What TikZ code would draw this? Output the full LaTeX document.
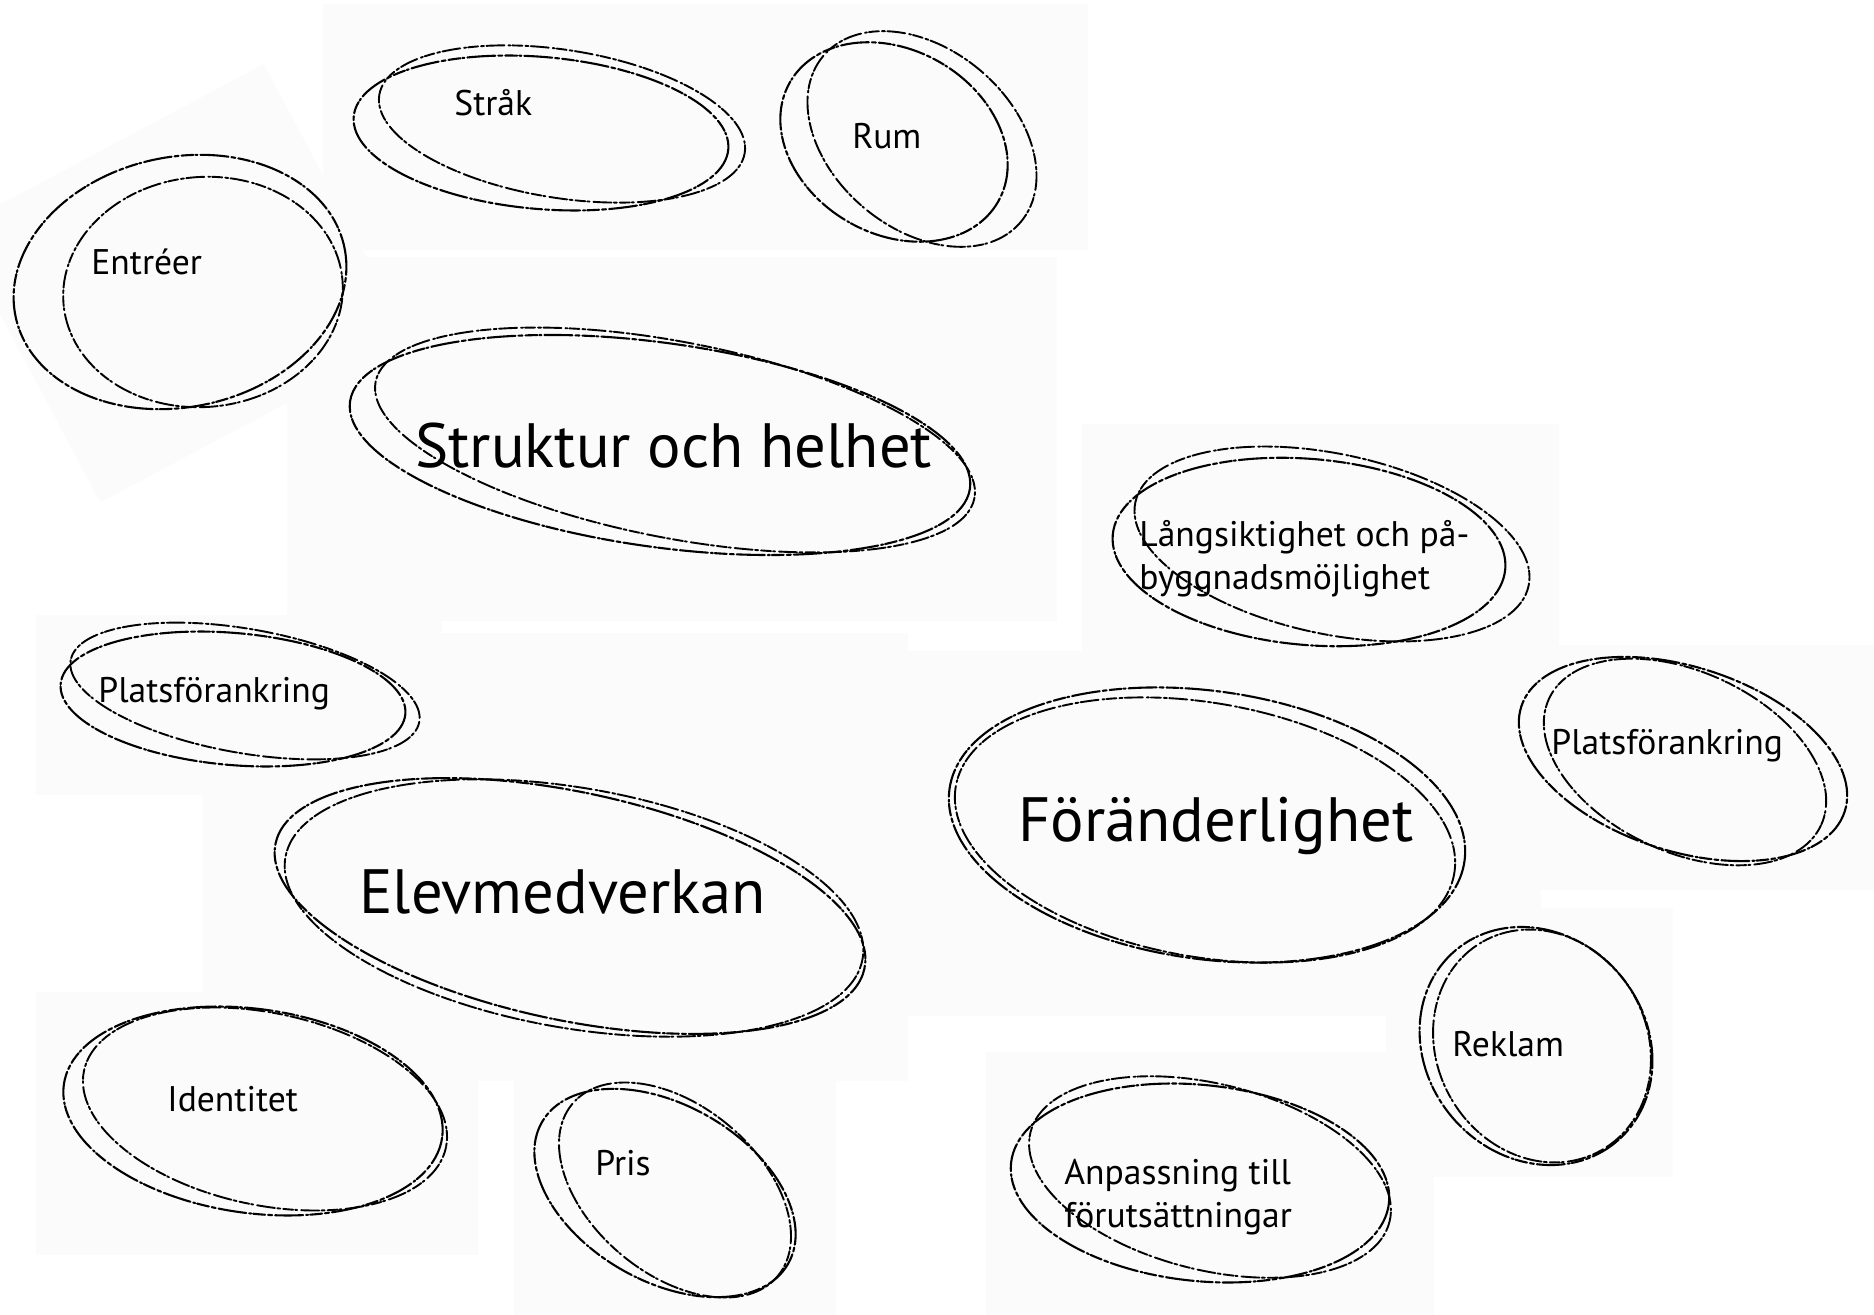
\documentclass[tikz,border=0pt]{standalone}
\usepackage{fontspec}
\setmainfont{PT Sans}
\tikzset{
  paper/.style={fill=black!1.5, draw=none},
  skA/.style={line width=1.05pt, line cap=round, dash pattern=on 14pt off 1.5pt on 2pt off 1.5pt on 6pt off 1pt on 1pt off 1.5pt},
  skB/.style={line width=0.95pt, line cap=round, dash pattern=on 5pt off 1.5pt on 1.5pt off 1.2pt on 9pt off 2pt on 1pt off 1pt},
  small/.style={font=\fontsize{17.8}{21.5}\selectfont, inner sep=0pt, anchor=base west, align=left},
  big/.style={font=\fontsize{31.3}{36}\selectfont, inner sep=0pt, anchor=base west}
}
\begin{document}
\begin{tikzpicture}[x=0.5pt, y=-0.5pt]
\useasboundingbox[fill=white] (0,0) rectangle (1874,1315);
% faint paper cut-outs
\fill[paper] (323,4) rectangle (1088,250);
\fill[paper, rotate around={28:(180,290)}] (10,130) rectangle (360,440);
\fill[paper] (287,257) rectangle (1057,621);
\fill[paper] (1082,424) rectangle (1559,669);
\fill[paper] (36,615) rectangle (442,795);
\fill[paper] (878,651) rectangle (1541,1016);
\fill[paper] (1488,645) rectangle (1874,890);
\fill[paper] (203,633) rectangle (908,1081);
\fill[paper] (36,992) rectangle (478,1255);
\fill[paper] (514,1064) rectangle (836,1315);
\fill[paper] (1386,908) rectangle (1673,1177);
\fill[paper] (986,1052) rectangle (1434,1315);
% Strak
\draw[skA, rotate around={-5:(541,133)}] (541,133) ellipse [x radius=188, y radius=76];
\draw[skB, rotate around={-9:(562,124)}] (562,124) ellipse [x radius=185, y radius=74];
% Rum
\draw[skA, rotate around={-30:(894,142)}] (894,142) ellipse [x radius=120, y radius=92];
\draw[skB, rotate around={-40:(922,139)}] (922,139) ellipse [x radius=129, y radius=90];
% Entreer
\draw[skA, rotate around={12:(180,282)}] (180,282) ellipse [x radius=168, y radius=125];
\draw[skB, rotate around={5:(203,292)}] (203,292) ellipse [x radius=140, y radius=115];
% Struktur
\draw[skA, rotate around={-8:(660,445)}] (660,445) ellipse [x radius=313, y radius=102];
\draw[skB, rotate around={-11:(675,440)}] (675,440) ellipse [x radius=305, y radius=98];
% Langsiktighet
\draw[skA, rotate around={-5:(1309,552)}] (1309,552) ellipse [x radius=197, y radius=93];
\draw[skB, rotate around={-12:(1332,544)}] (1332,544) ellipse [x radius=201, y radius=90];
% Platsforankring L
\draw[skA, rotate around={-5:(233,699)}] (233,699) ellipse [x radius=173, y radius=66];
\draw[skB, rotate around={-10:(245,691)}] (245,691) ellipse [x radius=177, y radius=62];
% Platsforankring R
\draw[skA, rotate around={-18:(1683,759)}] (1683,759) ellipse [x radius=170, y radius=92];
\draw[skB, rotate around={-25:(1685,762)}] (1685,762) ellipse [x radius=150, y radius=90];
% Foranderlighet
\draw[skA, rotate around={-8:(1207,825)}] (1207,825) ellipse [x radius=260, y radius=134];
\draw[skB, rotate around={-10:(1205,830)}] (1205,830) ellipse [x radius=253, y radius=127];
% Elevmedverkan
\draw[skA, rotate around={-12:(570,906)}] (570,906) ellipse [x radius=301, y radius=114];
\draw[skB, rotate around={-10:(574,908)}] (574,908) ellipse [x radius=293, y radius=120];
% Identitet
\draw[skA, rotate around={-8:(253,1111)}] (253,1111) ellipse [x radius=191, y radius=102];
\draw[skB, rotate around={-12:(265,1109)}] (265,1109) ellipse [x radius=185, y radius=96];
% Pris
\draw[skA, rotate around={-30:(665,1193)}] (665,1193) ellipse [x radius=142, y radius=88];
\draw[skB, rotate around={-40:(675,1190)}] (675,1190) ellipse [x radius=134, y radius=84];
% Reklam
\draw[skA, rotate around={-50:(1536,1046)}] (1536,1046) ellipse [x radius=125, y radius=110];
\draw[skB, rotate around={-60:(1542,1046)}] (1542,1046) ellipse [x radius=120, y radius=105];
% Anpassning
\draw[skA, rotate around={-6:(1200,1183)}] (1200,1183) ellipse [x radius=190, y radius=98];
\draw[skB, rotate around={-14:(1210,1177)}] (1210,1177) ellipse [x radius=185, y radius=93];
% labels
\node[small] (strak) at (454,116) {Stråk};
\node[small] (rum) at (852,149) {Rum};
\node[small] (entreer) at (91,275) {Entréer};
\node[big] (struktur) at (415,468) {Struktur och helhet};
\node[small] (lang) at (1139,590) {Långsiktighet och på-\\byggnadsmöjlighet};
\node[small] (platsL) at (98,703) {Platsförankring};
\node[small] (platsR) at (1551,754) {Platsförankring};
\node[big] (forand) at (1018,841) {Föränderlighet};
\node[big] (elev) at (359,913) {Elevmedverkan};
\node[small] (ident) at (167,1111) {Identitet};
\node[small] (pris) at (595,1175) {Pris};
\node[small] (reklam) at (1452,1056) {Reklam};
\node[small] (anpass) at (1064,1227) {Anpassning till\\förutsättningar};
\end{tikzpicture}
\end{document}
